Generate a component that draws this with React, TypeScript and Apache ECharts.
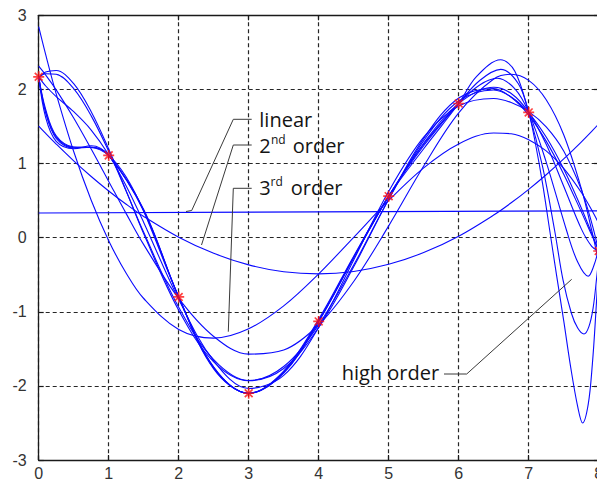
import { useEffect, useRef } from "react";
import * as echarts from "echarts";

// measured samples (red stars)
const pointX = [0, 1, 2, 3, 4, 5, 6, 7, 8];
const pointY = [2.17, 1.11, -0.8, -2.1, -1.13, 0.56, 1.81, 1.69, -0.18];

// straight line ("linear")
const linearX = [0, 8];
const linearY = [0.333, 0.362];

// shared x positions for the fitted curves
const fitX = [0, 0.1, 0.25, 0.5, 0.75, 1, 1.25, 1.5, 2, 2.5, 3, 3.5, 4, 4.5, 5, 5.5, 6, 6.5, 6.75, 7, 7.25, 7.5, 7.75, 7.9, 8];
const order2 = [1.505, 1.406, 1.263, 1.036, 0.825, 0.63, 0.45, 0.286, 0.006, -0.212, -0.367, -0.46, -0.489, -0.456, -0.36, -0.201, 0.02, 0.305, 0.47, 0.652, 0.849, 1.062, 1.29, 1.434, 1.534];
const order3 = [2.846, 2.468, 1.94, 1.162, 0.504, -0.041, -0.48, -0.821, -1.239, -1.356, -1.229, -0.921, -0.489, 0.005, 0.502, 0.942, 1.265, 1.412, 1.401, 1.322, 1.17, 0.936, 0.613, 0.373, 0.193];
const order4 = [2.313, 2.194, 1.994, 1.614, 1.195, 0.759, 0.324, -0.094, -0.82, -1.333, -1.572, -1.517, -1.175, -0.591, 0.159, 0.966, 1.684, 2.14, 2.205, 2.122, 1.861, 1.388, 0.667, 0.1, -0.34];
const order5 = [2.154, 2.234, 2.256, 2.077, 1.699, 1.196, 0.631, 0.053, -0.979, -1.676, -1.93, -1.739, -1.175, -0.369, 0.517, 1.309, 1.843, 1.993, 1.898, 1.685, 1.357, 0.925, 0.404, 0.059, -0.181];
const order6 = [2.161, 2.211, 2.204, 2.01, 1.643, 1.165, 0.626, 0.072, -0.939, -1.645, -1.928, -1.765, -1.211, -0.394, 0.519, 1.339, 1.884, 2.011, 1.894, 1.654, 1.302, 0.857, 0.351, 0.035, -0.174];
const order7 = [2.169, 2.046, 1.904, 1.699, 1.452, 1.119, 0.697, 0.205, -0.832, -1.663, -2.035, -1.858, -1.211, -0.301, 0.625, 1.357, 1.777, 1.878, 1.823, 1.7, 1.494, 1.168, 0.651, 0.2, -0.181];
const order8 = [2.17, 1.729, 1.375, 1.224, 1.217, 1.11, 0.818, 0.355, -0.8, -1.746, -2.1, -1.827, -1.13, -0.271, 0.56, 1.274, 1.81, 2.029, 1.944, 1.69, 1.259, 0.693, 0.122, -0.117, -0.18];

// high-order curves that swing between x = 7 and 8
const high1X = [0, 0.1, 0.25, 0.5, 0.75, 1, 1.5, 2, 2.5, 3, 3.5, 4, 4.5, 5, 5.5, 6, 6.25, 6.6, 6.8, 7, 7.1, 7.2, 7.3, 7.4, 7.5, 7.6, 7.7, 7.77, 7.85, 7.91, 7.96, 8];
const high1Y = [2.17, 1.62, 1.3, 1.2, 1.24, 1.11, 0.38, -0.8, -1.77, -2.1, -1.8, -1.1, -0.25, 0.56, 1.2, 1.81, 2.17, 2.4, 2.25, 1.69, 1.25, 0.72, 0.1, -0.52, -1.12, -1.75, -2.28, -2.5, -2.25, -1.7, -1.0, -0.35];
const high2X = [0, 0.1, 0.25, 0.5, 0.75, 1, 1.5, 2, 2.5, 3, 3.5, 4, 4.5, 5, 5.5, 6, 6.3, 6.6, 6.85, 7, 7.2, 7.37, 7.49, 7.61, 7.7, 7.79, 7.86, 7.92, 7.97, 8];
const high2Y = [2.17, 1.68, 1.34, 1.21, 1.22, 1.11, 0.37, -0.8, -1.76, -2.1, -1.81, -1.12, -0.26, 0.56, 1.24, 1.81, 2.12, 2.27, 2.08, 1.69, 0.95, 0.1, -0.57, -1.02, -1.22, -1.3, -1.2, -0.95, -0.55, -0.28];
const high3X = [0, 0.1, 0.25, 0.5, 0.75, 1, 1.5, 2, 2.5, 3, 3.5, 4, 4.5, 5, 5.5, 6, 6.3, 6.55, 6.8, 7, 7.25, 7.54, 7.7, 7.85, 7.93, 8];
const high3Y = [2.17, 1.7, 1.36, 1.22, 1.22, 1.11, 0.36, -0.8, -1.75, -2.1, -1.82, -1.13, -0.27, 0.56, 1.26, 1.81, 2.06, 2.15, 2.01, 1.69, 1.02, 0.1, -0.33, -0.52, -0.38, -0.15];

const STAR =
  "path://M0,4.25H10V5.75H0Z M4.25,0H5.75V10H4.25Z M0.9,2L2,0.9L9.1,8L8,9.1Z M8,0.9L9.1,2L2,9.1L0.9,8Z";

const zip = (xs: number[], ys: number[]) => xs.map((x, i) => [x, ys[i]]);

const TEXT_FONT = '20px "Open Sans"';
const SUP_FONT = '12px "Open Sans"';
const TEXT_COLOR = "#141414";
const LEADER = "#3a3a3a";

export default function App() {
  const ref = useRef<HTMLDivElement>(null);

  useEffect(() => {
    if (!ref.current) return;
    const chart = echarts.init(ref.current, undefined, { renderer: "svg" });

    const axisLine = { show: true, onZero: false, lineStyle: { color: "#1a1a1a", width: 1.3 } };
    const axisTick = { show: true, inside: true, length: 5, lineStyle: { color: "#1a1a1a", width: 1.2 } };
    const splitLine = { show: true, lineStyle: { type: [4, 3] as any, color: "#262626", width: 1.2 } };
    const labelStyle = { fontSize: 16, color: "#333", fontFamily: '"Liberation Sans", Arial, sans-serif' };

    const curve = (name: string, data: number[][]) => ({
      name,
      type: "line",
      data,
      smooth: 0.35,
      showSymbol: false,
      symbol: "none",
      lineStyle: { color: "#0a0aff", width: 1.1 },
      z: 2,
    });

    const text = (t: string, x: number, y: number, font: string) => ({
      type: "text",
      x,
      y,
      z: 100,
      style: { text: t, font, fill: TEXT_COLOR, align: "left", verticalAlign: "middle" },
    });
    const leader = (pts: number[][]) => ({
      type: "polyline",
      z: 99,
      shape: { points: pts },
      style: { stroke: LEADER, lineWidth: 1, fill: "none" },
    });

    chart.setOption({
      animation: false,
      backgroundColor: "#ffffff",
      grid: {
        left: 38.7,
        top: 15.3,
        width: 560,
        height: 444.7,
        outerBoundsMode: "none",
        containLabel: false,
      },
      xAxis: [
        {
          type: "value",
          min: 0,
          max: 8,
          interval: 1,
          position: "bottom",
          axisLine,
          axisTick,
          splitLine,
          axisLabel: { ...labelStyle, margin: 5, showMinLabel: true, showMaxLabel: true },
        },
        {
          type: "value",
          min: 0,
          max: 8,
          interval: 1,
          position: "top",
          axisLine,
          axisTick,
          splitLine: { show: false },
          axisLabel: { show: false },
        },
      ],
      yAxis: [
        {
          type: "value",
          min: -3,
          max: 3,
          interval: 1,
          position: "left",
          axisLine,
          axisTick,
          splitLine,
          axisLabel: { ...labelStyle, margin: 12 },
        },
        {
          type: "value",
          min: -3,
          max: 3,
          interval: 1,
          position: "right",
          axisLine,
          axisTick,
          splitLine: { show: false },
          axisLabel: { show: false },
        },
      ],
      series: [
        curve("linear", zip(linearX, linearY)),
        curve("2nd order", zip(fitX, order2)),
        curve("3rd order", zip(fitX, order3)),
        curve("4th order", zip(fitX, order4)),
        curve("5th order", zip(fitX, order5)),
        curve("6th order", zip(fitX, order6)),
        curve("7th order", zip(fitX, order7)),
        curve("8th order", zip(fitX, order8)),
        curve("high order A", zip(high1X, high1Y)),
        curve("high order B", zip(high2X, high2Y)),
        curve("high order C", zip(high3X, high3Y)),
        {
          name: "samples",
          type: "scatter",
          data: zip(pointX, pointY),
          symbol: STAR,
          symbolSize: 11,
          itemStyle: { color: "#ff1010" },
          z: 5,
          clip: false,
        },
      ],
      graphic: [
        leader([[251.7, 119.3], [233.3, 119.3], [191.7, 210.5], [186, 211.5]]),
        leader([[251.7, 145], [233.3, 145], [201.5, 245]]),
        leader([[251.7, 188.3], [233.3, 188.3], [228.3, 331.7]]),
        leader([[444, 374], [466.7, 374], [571.7, 279.3]]),
        text("linear", 259.3, 119.3, TEXT_FONT),
        text("2", 259.3, 145.5, TEXT_FONT),
        text("nd", 271, 139, SUP_FONT),
        text("order", 292.7, 145.5, TEXT_FONT),
        text("3", 259.3, 187.5, TEXT_FONT),
        text("rd", 270.5, 181, SUP_FONT),
        text("order", 290.7, 187.5, TEXT_FONT),
        text("high order", 341.7, 372.5, TEXT_FONT),
      ],
    });

    return () => chart.dispose();
  }, []);

  return (
    <div
      ref={ref}
      style={{ position: "fixed", left: 0, top: 0, width: 597, height: 481, background: "#fff" }}
    />
  );
}
